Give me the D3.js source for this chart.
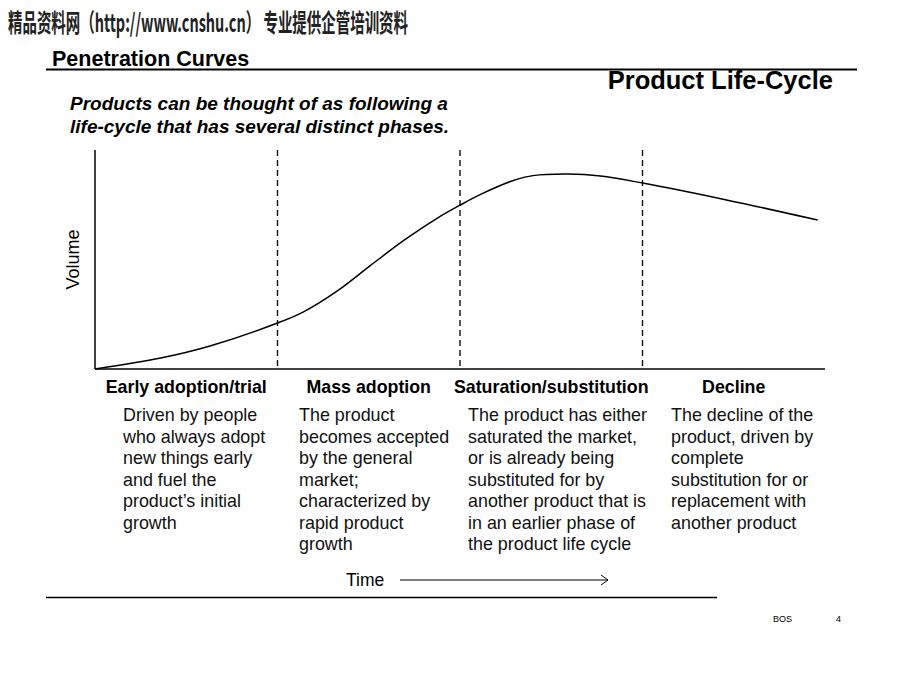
<!DOCTYPE html>
<html>
<head>
<meta charset="utf-8">
<script src="https://cdn.jsdelivr.net/npm/d3@7"></script>
<style>
  body { margin: 0; background: #fff; }
  svg { display: block; font-family: "Liberation Sans", Arial, sans-serif; }
</style>
</head>
<body>
<div id="container"></div>
<script>
// phase boundaries are at t = 1, 2, 3 (time in phase units)
const phases = ["Early adoption/trial", "Mass adoption", "Saturation/substitution", "Decline"];
const boundaries = [1, 2, 3];
const curveT = [0, 0.36, 0.63, 1.0, 1.14, 1.33, 1.51, 1.69, 1.87, 2.0, 2.13, 2.31, 2.4, 2.59, 2.77, 3.0, 3.46, 3.96];
const curveVol = [0, 5, 10.5, 21, 26, 35.8, 47.3, 58.6, 68.6, 74.8, 80.4, 86.6, 88.3, 89, 88.1, 84.9, 77.2, 68];
const descriptions = [
  ["Driven by people", "who always adopt", "new things early", "and fuel the", "product\u2019s initial", "growth"],
  ["The product", "becomes accepted", "by the general", "market;", "characterized by", "rapid product", "growth"],
  ["The product has either", "saturated the market,", "or is already being", "substituted for by", "another product that is", "in an earlier phase of", "the product life cycle"],
  ["The decline of the", "product, driven by", "complete", "substitution for or", "replacement with", "another product"]
];
const descX = [123, 299, 468, 671];

const w = 920, h = 690;
const svg = d3.select("#container").append("svg").attr("width", w).attr("height", h);

// header
svg.append("text")
  .attr("x", 8).attr("y", 32)
  .attr("textLength", 400).attr("lengthAdjust", "spacingAndGlyphs")
  .style("font-family", "'Noto Sans CJK SC', sans-serif")
  .style("font-size", "25px").style("font-weight", "bold").attr("fill", "#222")
  .text("精品资料网（http://www.cnshu.cn） 专业提供企管培训资料");

svg.append("text").attr("x", 52).attr("y", 66)
  .style("font-size", "21.5px").style("font-weight", "bold")
  .text("Penetration Curves");
svg.append("line").attr("x1", 46).attr("x2", 857).attr("y1", 69.5).attr("y2", 69.5)
  .attr("stroke", "#000").attr("stroke-width", 2);

svg.append("text").attr("x", 833).attr("y", 89).attr("text-anchor", "end")
  .style("font-size", "25.5px").style("font-weight", "bold")
  .text("Product Life-Cycle");

const sub = ["Products can be thought of as following a", "life-cycle that has several distinct phases."];
svg.selectAll(".sub").data(sub).enter().append("text")
  .attr("class", "sub")
  .attr("x", 70).attr("y", (d, i) => 110 + i * 23)
  .style("font-size", "19px").style("font-weight", "bold").style("font-style", "italic")
  .text(d => d);

// chart
const x = d3.scaleLinear().domain([0, 4]).range([95, 825]);
const y = d3.scaleLinear().domain([0, 100]).range([369, 150]);

svg.append("line").attr("x1", x(0)).attr("x2", x(0)).attr("y1", y(100)).attr("y2", y(0))
  .attr("stroke", "#000").attr("stroke-width", 1.5);
svg.append("line").attr("x1", x(0)).attr("x2", x(4)).attr("y1", y(0)).attr("y2", y(0))
  .attr("stroke", "#000").attr("stroke-width", 1.5);

svg.selectAll(".bound").data(boundaries).enter().append("line")
  .attr("class", "bound")
  .attr("x1", d => x(d)).attr("x2", d => x(d))
  .attr("y1", y(100)).attr("y2", y(0))
  .attr("stroke", "#000").attr("stroke-width", 1.3).attr("stroke-dasharray", "6,4");

const pts = curveT.map((t, i) => [t, curveVol[i]]);
svg.append("path").datum(pts)
  .attr("fill", "none").attr("stroke", "#000").attr("stroke-width", 1.5)
  .attr("d", d3.line().x(d => x(d[0])).y(d => y(d[1])).curve(d3.curveCatmullRom));

svg.append("text")
  .attr("transform", `translate(79, ${y(50)}) rotate(-90)`)
  .attr("text-anchor", "middle")
  .style("font-size", "18px")
  .text("Volume");

svg.selectAll(".phase").data(phases).enter().append("text")
  .attr("class", "phase")
  .attr("x", (d, i) => x(i + 0.5)).attr("y", 393)
  .attr("text-anchor", "middle")
  .style("font-size", "17.8px").style("font-weight", "bold")
  .text(d => d);

descriptions.forEach((lines, i) => {
  svg.append("g").selectAll("text").data(lines).enter().append("text")
    .attr("x", descX[i]).attr("y", (d, j) => 421 + j * 21.5)
    .style("font-size", "17.9px").attr("fill", "#111")
    .text(d => d);
});

// time arrow
svg.append("text").attr("x", 346).attr("y", 586)
  .style("font-size", "17.5px").text("Time");
svg.append("line").attr("x1", 400).attr("x2", 608).attr("y1", 580).attr("y2", 580)
  .attr("stroke", "#000").attr("stroke-width", 1);
svg.append("path").attr("d", "M601,575 L608,580 L601,585")
  .attr("fill", "none").attr("stroke", "#000").attr("stroke-width", 1);

svg.append("line").attr("x1", 46).attr("x2", 717).attr("y1", 597.5).attr("y2", 597.5)
  .attr("stroke", "#000").attr("stroke-width", 1.5);

svg.append("text").attr("x", 773).attr("y", 622).style("font-size", "9px").text("BOS");
svg.append("text").attr("x", 836).attr("y", 622).style("font-size", "9px").text("4");
</script>
</body>
</html>
